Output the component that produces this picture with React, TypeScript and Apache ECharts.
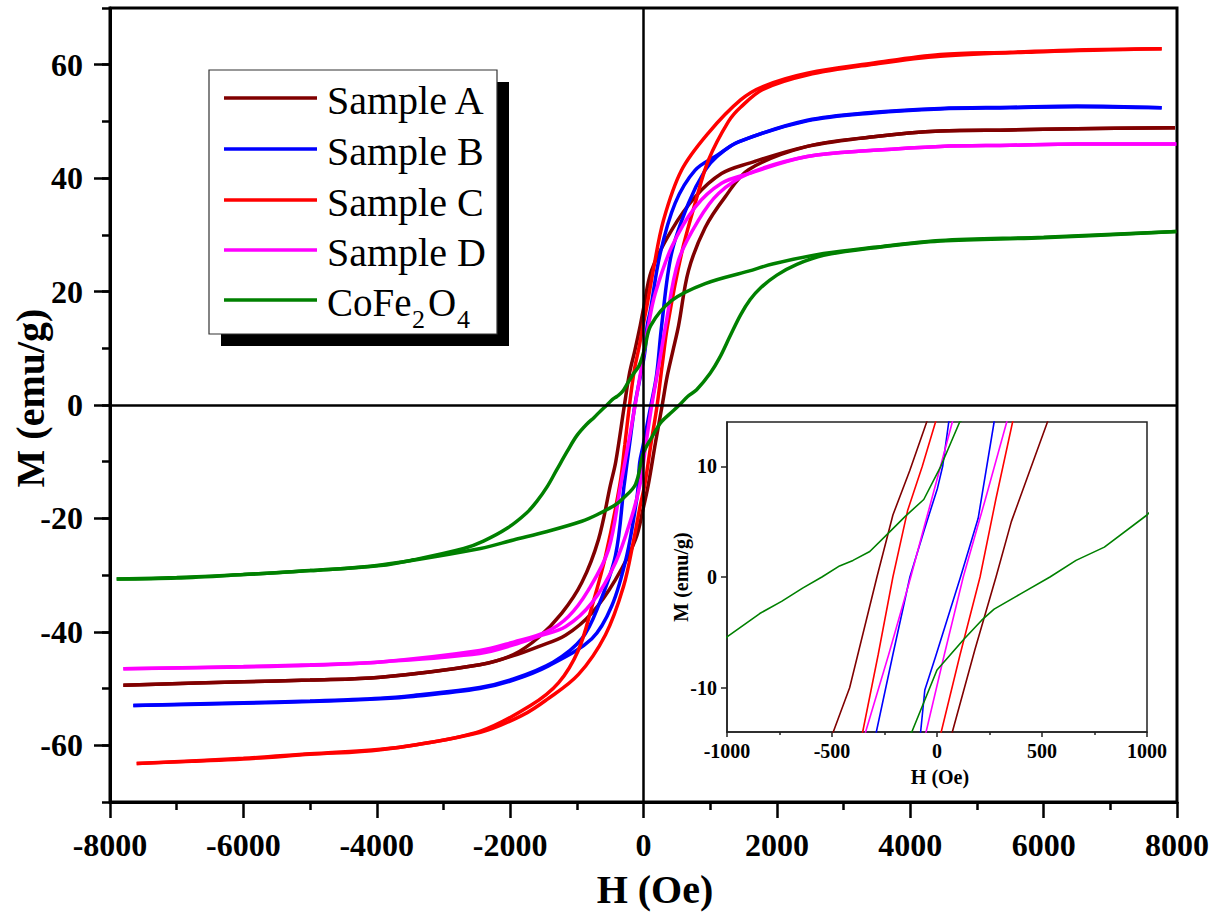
import React, { useEffect, useRef } from "react";
import * as echarts from "echarts";

type Pt = [number, number];

const seriesNames = ["Sample A", "Sample B", "Sample C", "Sample D", "CoFe2O4"];
const seriesColors = ["#800000", "#0000FF", "#FF0000", "#FF00FF", "#008000"];

const mainXTicks = { min: -8000, max: 8000, step: 2000 };
const mainYLabels = [-60, -40, -20, 0, 20, 40, 60];
const insetYLabels = [-10, 0, 10];

// Sample A (brown)
const sampleAUpper: Pt[] = [
  [7970, 48.9], [6500, 48.7], [5500, 48.5], [4450, 48.3], [3450, 47.3], [2456, 45.6],
  [1575, 42.6], [1170, 40.8], [775, 36.7], [420, 30.8], [120, 23.7], [0, 17.0],
  [-49, 14.0], [-130, 9.6], [-210, 5.6], [-286, 0], [-416, -10.0], [-494, -14.0],
  [-675, -23.7], [-925, -31.3], [-1225, -36.7], [-1575, -41.0], [-1950, -44.0],
  [-2456, -45.8], [-3943, -48.0], [-5000, -48.5], [-6000, -48.8], [-7800, -49.4],
];
const sampleALower: Pt[] = [
  [-7800, -49.4], [-6000, -48.8], [-5000, -48.5], [-3943, -48.0], [-2456, -45.8],
  [-1950, -44.2], [-1575, -42.6], [-1170, -40.6], [-775, -36.7], [-420, -30.8],
  [-120, -23.7], [0, -18.0], [73, -14.0], [180, -6.6], [281, 0], [354, 5.0],
  [440, 9.5], [526, 14.0], [675, 23.7], [925, 31.3], [1225, 36.7], [1575, 41.5],
  [2456, 45.6], [3450, 47.3], [4450, 48.3], [5500, 48.5], [6500, 48.7], [7970, 48.9],
];

// Sample B (blue)
const sampleBUpper: Pt[] = [
  [7770, 52.4], [6500, 52.7], [5500, 52.5], [4450, 52.3], [3450, 51.6], [2456, 50.2],
  [1425, 46.4], [1100, 44.0], [775, 41.4], [475, 35.6], [250, 26.7], [100, 16.5],
  [56, 14.0], [27, 10.0], [2, 8.0], [-60, 4.3], [-129, 0], [-210, -7.0], [-289, -14.0],
  [-420, -26.5], [-675, -35.4], [-925, -41.2], [-1350, -45.3], [-1950, -48.3],
  [-2456, -49.8], [-3450, -51.2], [-3943, -51.7], [-5000, -52.2], [-6000, -52.5], [-7650, -53.0],
];
const sampleBLower: Pt[] = [
  [-7650, -53.0], [-6000, -52.6], [-5000, -52.3], [-3943, -51.8], [-3450, -51.4],
  [-2456, -50.0], [-1950, -48.5], [-1425, -46.0], [-775, -41.2], [-475, -35.4],
  [-250, -26.5], [-100, -16.5], [-78, -14.0], [-58, -10.2], [-7, -7.2], [112, 0],
  [196, 5.3], [272, 14.0], [420, 26.7], [675, 35.6], [925, 41.4], [1100, 43.8],
  [1425, 46.4], [2456, 50.1], [3450, 51.5], [4450, 52.2], [5500, 52.4], [6500, 52.6], [7770, 52.4],
];

// Sample C (red)
const sampleCUpper: Pt[] = [
  [7770, 62.8], [6500, 62.6], [5500, 62.2], [4450, 61.8], [3450, 60.3], [2456, 58.5],
  [1800, 56.2], [1456, 53.8], [975, 48.0], [570, 41.4], [300, 32.6], [150, 24.0], [50, 17.4],
  [-7, 14.0], [-70, 10.0], [-140, 6.0], [-210, 0], [-280, -7.0], [-354, -14.0],
  [-570, -26.7], [-775, -35.6], [-975, -43.2], [-1275, -49.0], [-1694, -53.0],
  [-2444, -57.5], [-3450, -60.0], [-3943, -60.7], [-5000, -61.5], [-6000, -62.3], [-7600, -63.2],
];
const sampleCLower: Pt[] = [
  [-7600, -63.2], [-6000, -62.4], [-5000, -61.6], [-3943, -60.8], [-2444, -57.7],
  [-1800, -54.6], [-1456, -52.0], [-975, -47.5], [-570, -40.5], [-300, -32.0], [-150, -24.0],
  [-50, -17.8], [20, -14.0], [110, -7.0], [205, 0], [280, 7.0], [360, 14.0],
  [570, 26.7], [775, 35.6], [975, 43.2], [1275, 50.0], [1456, 52.5], [1800, 55.7], [2456, 58.2],
  [3450, 60.1], [4450, 61.5], [6000, 62.3], [7770, 62.8],
];

// Sample D (magenta)
const sampleDUpper: Pt[] = [
  [7990, 46.0], [6500, 46.0], [5500, 45.8], [4450, 45.6], [3450, 44.9], [2456, 43.8],
  [1575, 40.8], [1170, 39.1], [775, 34.9], [420, 27.8], [175, 19.6], [73, 14.0],
  [0, 8.8], [-60, 4.6], [-125, 0], [-230, -7.0], [-340, -14.0], [-525, -25.5],
  [-825, -32.6], [-1125, -37.3], [-1456, -40.0], [-1950, -41.8], [-2456, -43.3],
  [-3943, -45.3], [-5000, -45.8], [-6000, -46.1], [-7800, -46.5],
];
const sampleDLower: Pt[] = [
  [-7800, -46.5], [-6000, -46.2], [-5000, -45.9], [-3943, -45.3], [-2456, -43.8],
  [-1950, -42.3], [-1575, -40.8], [-1170, -39.1], [-775, -34.9], [-420, -27.8],
  [-175, -19.6], [-52, -14.0], [35, -7.0], [125, 0], [230, 7.0], [332, 14.0],
  [525, 25.5], [825, 32.6], [1125, 37.3], [1575, 40.8], [2456, 43.8], [3450, 44.9],
  [4450, 45.6], [5500, 45.8], [6500, 46.0], [7990, 46.0],
];

// CoFe2O4 (green)
const cofeUpper: Pt[] = [
  [7990, 30.6], [6000, 29.6], [4450, 29.0], [3450, 27.8], [2700, 26.7], [1950, 24.9],
  [1575, 23.6], [925, 21.4], [420, 18.4], [108, 14.0], [18, 10.0], [-63, 7.0],
  [-150, 5.5], [-235, 3.9], [-320, 2.3], [-400, 1.5], [-464, 1.0], [-548, 0],
  [-640, -1.0], [-740, -2.2], [-844, -3.3], [-1000, -5.4], [-1140, -8.1],
  [-1300, -11.4], [-1444, -14.4], [-1600, -17.0], [-1750, -19.0], [-2040, -21.7],
  [-2400, -24.0], [-2694, -25.3], [-3450, -27.3], [-3943, -28.3], [-5000, -29.2],
  [-6000, -29.9], [-7000, -30.4], [-7900, -30.7],
];
const cofeLower: Pt[] = [
  [-7900, -30.7], [-7000, -30.5], [-6000, -29.9], [-5000, -29.2], [-3943, -28.2],
  [-2444, -25.3], [-1950, -23.8], [-1444, -22.3], [-925, -20.5], [-690, -19.3],
  [-420, -17.6], [-300, -16.4], [-120, -14.0], [0, -8.4], [129, -5.6], [213, -3.9],
  [272, -2.9], [400, -1.5], [538, 0], [662, 1.5], [797, 2.7], [1000, 5.6],
  [1140, 8.3], [1300, 12.2], [1456, 15.9], [1600, 18.6], [1750, 20.6], [2000, 22.9],
  [2300, 24.8], [2700, 26.4], [3450, 27.7], [4450, 28.9], [6000, 29.5], [7990, 30.6],
];

const branches = [
  { upper: sampleAUpper, lower: sampleALower },
  { upper: sampleBUpper, lower: sampleBLower },
  { upper: sampleCUpper, lower: sampleCLower },
  { upper: sampleDUpper, lower: sampleDLower },
  { upper: cofeUpper, lower: cofeLower },
];

const FONT = "'Liberation Serif', 'Times New Roman', serif";
const plain = (v: number) => String(v);

function buildOption() {
  const mainSeries: any[] = [];
  const insetSeries: any[] = [];
  branches.forEach((b, i) => {
    [b.upper, b.lower].forEach((d) => {
      mainSeries.push({
        type: "line",
        name: seriesNames[i],
        xAxisIndex: 0,
        yAxisIndex: 0,
        data: d,
        symbol: "none",
        showSymbol: false,
        smooth: 0.35,
        silent: true,
        z: 3,
        lineStyle: { color: seriesColors[i], width: 3.5 },
        itemStyle: { color: seriesColors[i] },
      });
      insetSeries.push({
        type: "line",
        name: seriesNames[i] + " inset",
        xAxisIndex: 1,
        yAxisIndex: 2,
        data: d,
        symbol: "none",
        showSymbol: false,
        smooth: false,
        silent: true,
        clip: true,
        z: 12,
        lineStyle: { color: seriesColors[i], width: 1.6 },
        itemStyle: { color: seriesColors[i] },
      });
    });
  });

  const zeroMain = {
    type: "line",
    xAxisIndex: 0,
    yAxisIndex: 0,
    data: [[0, 0]],
    symbol: "none",
    showSymbol: false,
    lineStyle: { opacity: 0 },
    silent: true,
    z: 1,
    markLine: {
      silent: true,
      animation: false,
      symbol: ["none", "none"],
      label: { show: false },
      lineStyle: { color: "#000", width: 2.5, type: "solid" },
      data: [{ xAxis: 0 }, { yAxis: 0 }],
    },
  };
  const zeroInset = {
    type: "line",
    xAxisIndex: 1,
    yAxisIndex: 2,
    data: [[0, 0]],
    symbol: "none",
    showSymbol: false,
    lineStyle: { opacity: 0 },
    silent: true,
    z: 11,
    markLine: {
      silent: true,
      animation: false,
      symbol: ["none", "none"],
      label: { show: false },
      lineStyle: { color: "#000", width: 1.5, type: "solid" },
      data: [{ xAxis: 0 }, { yAxis: 0 }],
    },
  };

  const legendRowsY = [98, 149, 200, 250, 300];
  const legendGraphics: any[] = [
    { type: "rect", z: 100, shape: { x: 221, y: 82, width: 288, height: 264 }, style: { fill: "#000" } },
    {
      type: "rect",
      z: 101,
      shape: { x: 209, y: 70, width: 288, height: 264 },
      style: { fill: "#fff", stroke: "#333", lineWidth: 1.2 },
    },
  ];
  seriesNames.forEach((name, i) => {
    const y = legendRowsY[i];
    legendGraphics.push({
      type: "line",
      z: 102,
      shape: { x1: 224, y1: y, x2: 317, y2: y },
      style: { stroke: seriesColors[i], lineWidth: 3.5 },
    });
    if (i < 4) {
      legendGraphics.push({
        type: "text",
        z: 102,
        x: 327,
        y: y + 2,
        style: { text: name, fontFamily: FONT, fontSize: 40, fill: "#000", textAlign: "left", textVerticalAlign: "middle" },
      });
    }
  });
  const cy = legendRowsY[4];
  const cofeParts = [
    { t: "CoFe", x: 327, sub: false },
    { t: "2", x: 412, sub: true },
    { t: "O", x: 428, sub: false },
    { t: "4", x: 457, sub: true },
  ];
  cofeParts.forEach((p) => {
    legendGraphics.push({
      type: "text",
      z: 102,
      x: p.x,
      y: p.sub ? cy + 19 : cy + 2,
      style: {
        text: p.t,
        fontFamily: FONT,
        fontSize: p.sub ? 26 : 39,
        fill: "#000",
        textAlign: "left",
        textVerticalAlign: "middle",
      },
    });
  });

  const titleGraphics: any[] = [
    {
      type: "text",
      x: 30,
      y: 398,
      rotation: Math.PI / 2,
      style: { text: "M (emu/g)", fontFamily: FONT, fontWeight: "bold", fontSize: 40, fill: "#000", textAlign: "center", textVerticalAlign: "middle" },
    },
    {
      type: "text",
      x: 655,
      y: 889,
      style: { text: "H (Oe)", fontFamily: FONT, fontWeight: "bold", fontSize: 40, fill: "#000", textAlign: "center", textVerticalAlign: "middle" },
    },
    {
      type: "text",
      x: 681,
      y: 577,
      z: 20,
      rotation: Math.PI / 2,
      style: { text: "M (emu/g)", fontFamily: FONT, fontWeight: "bold", fontSize: 20, fill: "#000", textAlign: "center", textVerticalAlign: "middle" },
    },
    {
      type: "text",
      x: 940,
      y: 777,
      z: 20,
      style: { text: "H (Oe)", fontFamily: FONT, fontWeight: "bold", fontSize: 20, fill: "#000", textAlign: "center", textVerticalAlign: "middle" },
    },
  ];

  const mainLine = { color: "#000", width: 3 };
  const mainTick = { color: "#000", width: 2.5 };
  const insetLine = { color: "#222", width: 1.5 };

  return {
    animation: false,
    backgroundColor: "#fff",
    grid: [
      { left: 110, top: 8, width: 1067, height: 794, show: true, borderColor: "#000", borderWidth: 3, backgroundColor: "transparent", z: 0 },
      { left: 727, top: 422, width: 420, height: 310, show: true, borderColor: "#222", borderWidth: 1.5, backgroundColor: "#fff", z: 10 },
    ],
    xAxis: [
      {
        type: "value",
        gridIndex: 0,
        position: "bottom",
        min: mainXTicks.min,
        max: mainXTicks.max,
        interval: mainXTicks.step,
        axisLine: { onZero: false, lineStyle: mainLine },
        axisTick: { show: true, inside: false, length: 16, lineStyle: mainTick },
        minorTick: { show: true, splitNumber: 2, length: 8, lineStyle: mainTick },
        axisLabel: { color: "#000", fontFamily: FONT, fontWeight: "bold", fontSize: 32, margin: 27, formatter: plain },
        splitLine: { show: false },
        minorSplitLine: { show: false },
      },
      {
        type: "value",
        gridIndex: 1,
        position: "bottom",
        min: -1000,
        max: 1000,
        interval: 500,
        z: 12,
        axisLine: { onZero: false, lineStyle: insetLine },
        axisTick: { show: true, inside: false, length: 5, lineStyle: insetLine },
        minorTick: { show: true, splitNumber: 2, length: 3, lineStyle: insetLine },
        axisLabel: { color: "#000", fontFamily: FONT, fontWeight: "bold", fontSize: 20, margin: 9, formatter: plain },
        splitLine: { show: false },
        minorSplitLine: { show: false },
      },
    ],
    yAxis: [
      {
        type: "value",
        gridIndex: 0,
        position: "left",
        min: -70,
        max: 70,
        axisLine: { onZero: false, lineStyle: mainLine },
        axisTick: { show: true, inside: false, length: 16, lineStyle: mainTick, customValues: mainYLabels },
        axisLabel: { color: "#000", fontFamily: FONT, fontWeight: "bold", fontSize: 32, margin: 27, customValues: mainYLabels, formatter: plain },
        splitLine: { show: false },
      },
      {
        type: "value",
        gridIndex: 0,
        position: "left",
        min: -70,
        max: 70,
        interval: 10,
        axisLine: { show: false, onZero: false },
        axisTick: { show: true, inside: false, length: 8, lineStyle: mainTick },
        axisLabel: { show: false },
        splitLine: { show: false },
      },
      {
        type: "value",
        gridIndex: 1,
        position: "left",
        min: -14,
        max: 14,
        z: 12,
        axisLine: { onZero: false, lineStyle: insetLine },
        axisTick: { show: true, inside: false, length: 6, lineStyle: insetLine, customValues: insetYLabels },
        axisLabel: { color: "#000", fontFamily: FONT, fontWeight: "bold", fontSize: 20, margin: 10, customValues: insetYLabels, formatter: plain },
        splitLine: { show: false },
      },
    ],
    graphic: { elements: [...legendGraphics, ...titleGraphics] },
    series: [zeroMain, ...mainSeries, zeroInset, ...insetSeries],
  };
}

export default function App() {
  const ref = useRef<HTMLDivElement>(null);
  useEffect(() => {
    if (!ref.current) return;
    const chart = echarts.init(ref.current, undefined, { renderer: "svg" });
    chart.setOption(buildOption() as any);
    return () => chart.dispose();
  }, []);
  return (
    <div
      ref={ref}
      style={{ position: "fixed", left: 0, top: 0, width: 1219, height: 913, background: "#fff" }}
    />
  );
}
